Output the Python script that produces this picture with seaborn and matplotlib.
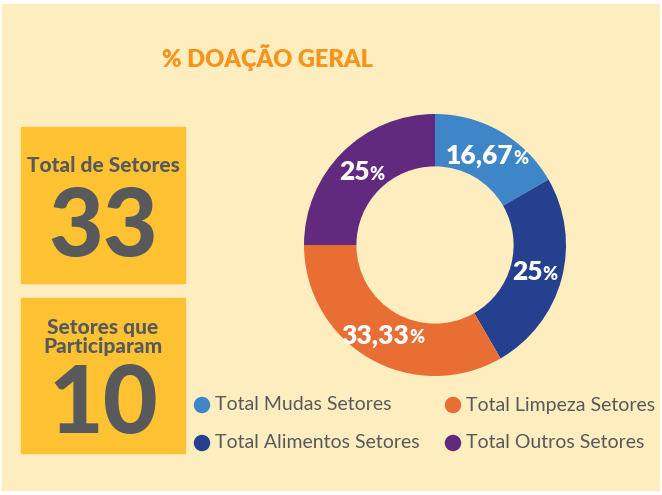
import matplotlib
matplotlib.use("Agg")
import matplotlib.pyplot as plt
import seaborn as sns
import pandas as pd
import numpy as np
from matplotlib.patches import Rectangle

# data
setores = ['Total Mudas Setores', 'Total Alimentos Setores',
           'Total Limpeza Setores', 'Total Outros Setores']
percentuais = [16.67, 25, 33.33, 25]
rotulos = ['16,67', '25', '33,33', '25']
cores = ['#3F86C8', '#25408F', '#E96E34', '#622A7E']
total_setores = 33
setores_participaram = 10

sns.set_theme(style='white')
plt.rcParams['font.family'] = ['Lato', 'DejaVu Sans']

bg = '#FEEDBF'
cinza = '#58595B'
amarelo = '#FFC233'

fig = plt.figure(figsize=(6.62, 4.95), dpi=100)
fig.patch.set_facecolor('white')

# overlay axes in pixel coordinates
ax = fig.add_axes([0, 0, 1, 1])
ax.set_xlim(0, 662)
ax.set_ylim(495, 0)
ax.axis('off')
ax.add_patch(Rectangle((2, 4), 657, 486, color=bg, zorder=0))

ax.text(268, 58, '% DOAÇÃO GERAL', color='#F7941D', fontsize=17,
        fontweight='heavy', ha='center', va='center')

# left boxes
ax.add_patch(Rectangle((21, 127), 164, 156, color=amarelo, zorder=1))
ax.add_patch(Rectangle((21, 298), 164, 155, color=amarelo, zorder=1))
ax.text(103, 166, 'Total de Setores', color=cinza, fontsize=15,
        fontweight='black', ha='center', va='center', zorder=2)
ax.text(103, 229, str(total_setores), color=cinza, fontsize=68,
        fontweight='black', ha='center', va='center', zorder=2)
ax.text(103, 337, 'Setores que\nParticiparam', color=cinza, fontsize=15,
        fontweight='black', ha='center', va='center', linespacing=1.0, zorder=2)
ax.text(103, 406, str(setores_participaram), color=cinza, fontsize=68,
        fontweight='black', ha='center', va='center', zorder=2)

# legend
leg = pd.DataFrame({
    'setor': setores,
    'x': [202, 202, 453, 453],
    'y': [405, 443, 405, 443],
})
sns.scatterplot(data=leg, x='x', y='y', hue='setor', palette=cores,
                hue_order=setores, s=140, edgecolor='none', legend=False,
                ax=ax, zorder=3)
for _, r in leg.iterrows():
    ax.text(r['x'] + 13, r['y'], r['setor'], color=cinza, fontsize=14,
            ha='left', va='center')
ax.set_xlabel('')
ax.set_ylabel('')
ax.set_xlim(0, 662)
ax.set_ylim(495, 0)

# donut
cx, cy, rad = 435, 245, 131
pax = fig.add_axes([(cx - rad) / 662, (495 - cy - rad) / 495,
                    2 * rad / 662, 2 * rad / 495])
pax.pie(percentuais, colors=cores, startangle=90, counterclock=False,
        radius=1, wedgeprops=dict(width=0.4, edgecolor='none'))
pax.set_xlim(-1, 1)
pax.set_ylim(-1, 1)
pax.axis('off')

fig.canvas.draw()
rend = fig.canvas.get_renderer()
ang = 90.0
for val, lab in zip(percentuais, rotulos):
    span = val / 100 * 360
    mid = np.deg2rad(ang - span / 2)
    ang -= span
    x, y = 0.79 * np.cos(mid), 0.79 * np.sin(mid)
    t1 = pax.text(0, 0, lab, color='white', fontsize=19, fontweight='heavy',
                  ha='left', va='baseline')
    t2 = pax.text(0, 0, '%', color='white', fontsize=13, fontweight='heavy',
                  ha='left', va='baseline')
    w1 = t1.get_window_extent(rend).width
    w2 = t2.get_window_extent(rend).width
    h1 = t1.get_window_extent(rend).height
    k = 2 / (2 * rad)
    tot = (w1 + w2) * k
    x0 = x - tot / 2
    y0 = y - 0.36 * h1 * k
    t1.set_position((x0, y0))
    t2.set_position((x0 + w1 * k, y0))

fig.savefig('out.png', dpi=100, facecolor=fig.get_facecolor())
